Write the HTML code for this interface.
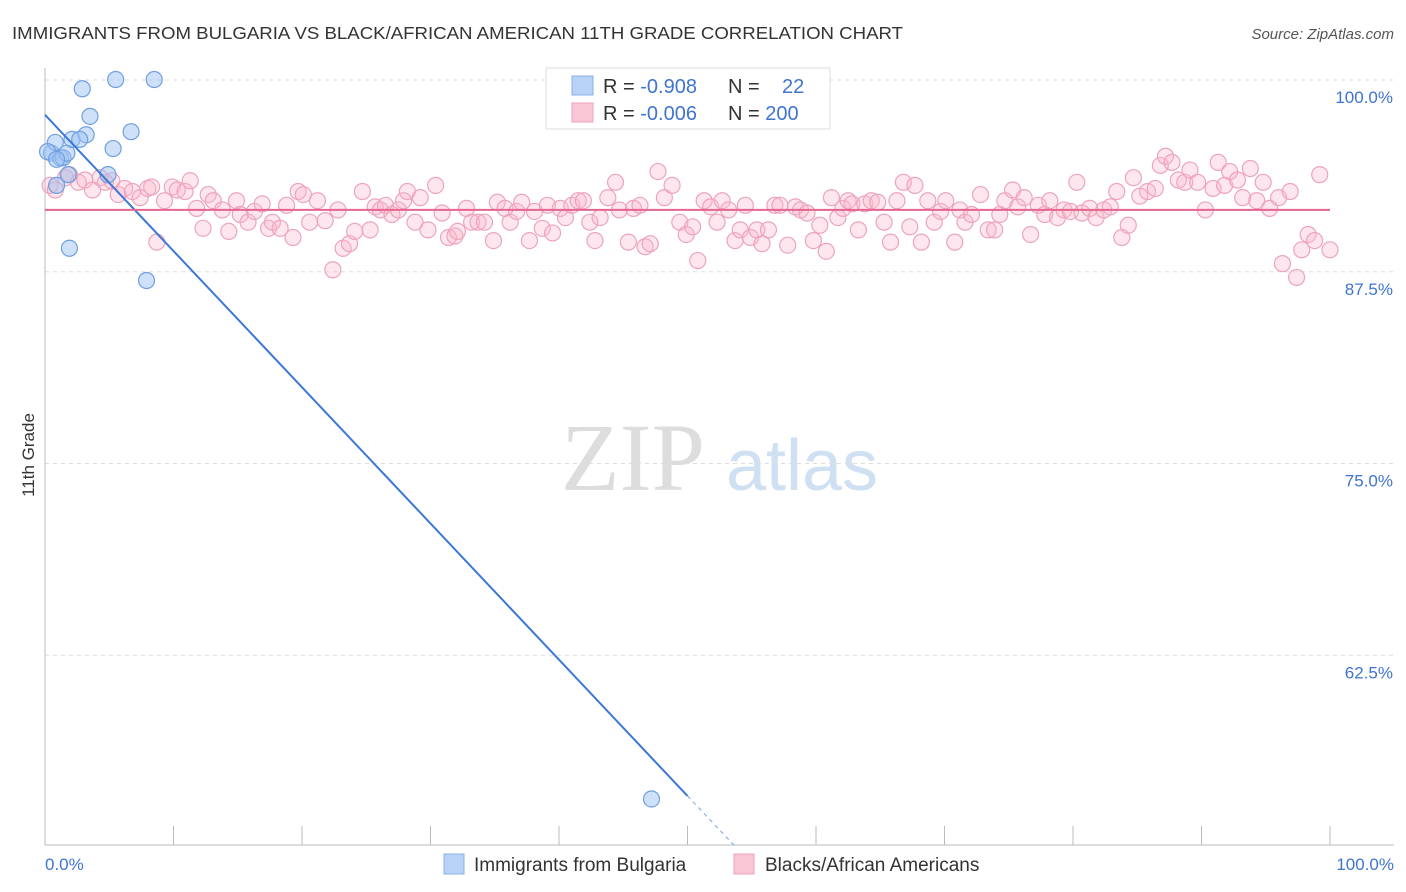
<!DOCTYPE html>
<html><head><meta charset="utf-8">
<style>
body{margin:0;width:1406px;height:892px;background:#fff;font-family:"Liberation Sans",sans-serif;overflow:hidden}
svg{display:block}
</style></head><body>
<svg id="chart" width="1406" height="892">
<text x="12" y="39" font-size="17.5" fill="#333" textLength="891" lengthAdjust="spacingAndGlyphs">IMMIGRANTS FROM BULGARIA VS BLACK/AFRICAN AMERICAN 11TH GRADE CORRELATION CHART</text>
<text x="1394" y="39" font-size="15" fill="#555" font-style="italic" text-anchor="end">Source: ZipAtlas.com</text>
<g>
<text x="633" y="490" font-size="96" fill="#ddd" font-family="Liberation Serif,serif" text-anchor="middle">ZIP</text>
<text x="802" y="490" font-size="72" fill="#cfe0f2" text-anchor="middle">atlas</text>
</g>
<g id="grid"></g>
<g id="axes"></g>
<g id="pink"></g>
<g id="blue"></g>
<g id="lines"></g>
<text transform="translate(34,455) rotate(-90)" font-size="17" fill="#333" text-anchor="middle">11th Grade</text>
<g>
<rect x="546" y="68" width="284" height="61" fill="#fff" stroke="#ddd"/>
<rect x="572" y="76" width="21" height="19" fill="#b8d3f5" stroke="#8ab0e6"/>
<rect x="572" y="103" width="21" height="19" fill="#f9c6d6" stroke="#eda2bb"/>
<text x="603" y="93" font-size="20" fill="#333">R = <tspan fill="#3f74d0">-0.908</tspan></text>
<text x="728" y="93" font-size="20" fill="#333">N = <tspan fill="#3f74d0" x="782">22</tspan></text>
<text x="603" y="120" font-size="20" fill="#333">R = <tspan fill="#3f74d0">-0.006</tspan></text>
<text x="728" y="120" font-size="20" fill="#333">N = <tspan fill="#3f74d0">200</tspan></text>
</g>
<g>
<rect x="444" y="854" width="20" height="20" fill="#b8d3f5" stroke="#8ab0e6"/>
<text x="474" y="871" font-size="19" fill="#333">Immigrants from Bulgaria</text>
<rect x="734" y="854" width="20" height="20" fill="#f9c6d6" stroke="#eda2bb"/>
<text x="765" y="871" font-size="19" fill="#333">Blacks/African Americans</text>
</g>
</svg>
<script>
const blueX=[0.5,0.8,0.9,1.2,1.4,1.7,1.9,2.1,2.9,3.2,2.7,3.5,4.9,5.3,5.5,6.7,7.9,8.5,47.2,0.2,0.9,1.8];
const blueY=[95.1,95.8,93.0,94.8,94.8,95.1,88.9,96.0,99.3,96.3,96.0,97.5,93.7,95.4,99.9,96.5,86.8,99.9,53.0,95.2,94.7,93.7];
const pinkX=[0.4,0.8,1.6,1.9,2.6,3.1,3.7,4.3,4.7,5.2,5.7,6.2,6.8,7.4,8.0,8.3,8.7,9.3,9.9,10.3,10.9,11.3,11.8,12.3,12.7,13.1,13.8,14.3,14.9,15.2,15.8,16.3,16.9,17.4,17.7,18.3,18.8,19.3,19.7,20.1,20.6,21.2,21.8,22.4,22.8,23.2,23.7,24.1,24.7,25.3,25.7,26.1,26.5,27.0,27.5,27.9,28.2,28.8,29.2,29.8,30.4,30.9,31.4,31.9,32.1,32.8,33.2,33.7,34.2,34.9,35.2,35.8,36.2,36.7,37.1,37.7,38.1,38.7,39.1,39.5,40.1,40.5,41.0,41.5,41.9,42.4,42.8,43.2,43.8,44.4,44.7,45.4,45.8,46.3,46.7,47.1,47.7,48.2,48.8,49.4,49.9,50.4,50.8,51.3,51.8,52.3,52.7,53.2,53.7,54.1,54.5,54.9,55.4,55.8,56.3,56.8,57.2,57.8,58.4,58.8,59.3,59.8,60.3,60.8,61.2,61.7,62.1,62.5,62.8,63.3,63.8,64.3,64.8,65.3,65.8,66.3,66.8,67.3,67.7,68.2,68.7,69.2,69.7,70.1,70.8,71.2,71.6,72.1,72.8,73.4,73.9,74.3,74.7,75.3,75.7,76.2,76.7,77.3,77.8,78.2,78.8,79.3,79.8,80.3,80.7,81.3,81.8,82.4,82.9,83.4,83.8,84.3,84.7,85.2,85.8,86.4,86.8,87.2,87.7,88.2,88.7,89.1,89.7,90.3,90.9,91.3,91.8,92.2,92.8,93.2,93.8,94.3,94.8,95.3,96.0,96.3,96.9,97.4,97.8,98.3,98.8,99.2,100.0];
const pinkY=[93.0,92.7,93.5,93.7,93.2,93.35,92.7,93.5,93.2,93.3,92.4,92.8,92.6,92.2,92.8,92.9,89.3,92.0,92.9,92.7,92.6,93.3,91.5,90.2,92.4,92.0,91.4,90.0,92.0,91.1,90.6,91.3,91.8,90.2,90.6,90.2,91.7,89.6,92.6,92.4,90.6,92.0,90.7,87.5,91.4,88.9,89.2,90.0,92.6,90.1,91.6,91.4,91.7,91.1,91.4,92.0,92.6,90.6,92.2,90.1,93.0,91.2,89.6,89.7,90.0,91.5,90.6,90.6,90.6,89.4,91.9,91.5,90.6,91.3,91.9,89.4,91.3,90.2,91.7,89.9,91.5,90.9,91.7,92.0,92.0,90.6,89.4,90.9,92.2,93.2,91.4,89.3,91.5,91.7,89.0,89.2,93.9,92.2,93.0,90.6,89.8,90.3,88.1,92.0,91.6,90.6,92.0,91.4,89.4,90.1,91.7,89.6,90.1,89.2,90.1,91.7,91.7,89.1,91.6,91.4,91.2,89.4,90.4,88.7,92.2,90.9,91.5,92.0,91.8,90.1,91.8,92.0,91.9,90.6,89.3,92.0,93.2,90.3,93.0,89.3,92.0,90.6,91.3,92.0,89.3,91.4,90.6,91.1,92.4,90.1,90.1,91.1,92.0,92.7,91.6,92.2,89.8,91.7,91.1,92.0,90.9,91.4,91.3,93.2,91.2,91.5,90.9,91.4,91.6,92.6,89.6,90.4,93.5,92.3,92.6,92.8,94.3,94.9,94.5,93.35,93.2,94.0,93.2,91.4,92.8,94.5,93.0,93.9,93.35,92.2,94.1,92.0,93.2,91.5,92.2,87.9,92.6,87.0,88.8,89.8,89.4,93.7,88.8];
const yTicks=[100,87.5,75,62.5];
const yTickLabels=["100.0%","87.5%","75.0%","62.5%"];
const pinkFitLevel=91.4;

const NS="http://www.w3.org/2000/svg";
const X0=45,X1=1330,YT=78,YB=845;
const sx=v=>X0+(X1-X0)*v/100;
const sy=v=>YT+(100-v)*(YB-YT)/50;
function mk(tag,attrs,parent){const e=document.createElementNS(NS,tag);for(const k in attrs)e.setAttribute(k,attrs[k]);parent.appendChild(e);return e;}
const grid=document.getElementById('grid'),axes=document.getElementById('axes');
yTicks.forEach((t,i)=>{
 const g=mk('line',{x1:X0,x2:1394,y1:sy(t)+2,y2:sy(t)+2,stroke:'#ddd','stroke-dasharray':'4,4'},grid);
 
 
 const l=mk('text',{x:1393,y:sy(t)+25,'font-size':17,fill:'#3f74d0','text-anchor':'end'},axes);
 l.textContent=yTickLabels[i];
 
 
});
const ax=mk('line',{x1:X0,x2:1394,y1:YB,y2:YB,stroke:'#bbb'},axes);


const ay=mk('line',{x1:X0,x2:X0,y1:68,y2:YB,stroke:'#bbb'},axes);


for(let i=0;i<=10;i++){
 const t=mk('line',{x1:sx(i*10),x2:sx(i*10),y1:826,y2:YB,stroke:'#bbb'},axes);
 
 
}
const xl=mk('text',{x:45,y:870,'font-size':17,fill:'#3f74d0'},axes);xl.textContent='0.0%';


const xr=mk('text',{x:1394,y:870,'font-size':17,fill:'#3f74d0','text-anchor':'end'},axes);xr.textContent='100.0%';



const pink=document.getElementById('pink');
pinkX.forEach((x,i)=>{
 const c=mk('circle',{cx:sx(x),cy:sy(pinkY[i]),r:8,fill:'rgba(248,182,203,0.35)',stroke:'#eea3bc','stroke-width':1.2},pink);
 
 
});
const blue=document.getElementById('blue');
blueX.forEach((x,i)=>{
 const c=mk('circle',{cx:sx(x),cy:sy(blueY[i]),r:8,fill:'rgba(160,195,242,0.5)',stroke:'#6f9fe0','stroke-width':1.2},blue);
 
 
});
const lines=document.getElementById('lines');
const a=97.6,b=(53.2-97.6)/50;
const bl=mk('line',{x1:sx(0),y1:sy(a),x2:sx(50),y2:sy(a+b*50),stroke:'#3a78d8','stroke-width':2},lines);


const bd=mk('line',{x1:sx(50),y1:sy(a+b*50),x2:sx(53.7),y2:sy(a+b*53.7),stroke:'#8ab0e6','stroke-width':1.2,'stroke-dasharray':'4,4'},lines);


const pl=mk('line',{x1:sx(0),y1:sy(pinkFitLevel),x2:sx(100),y2:sy(pinkFitLevel),stroke:'#e5658e','stroke-width':2},lines);


</script>
</body></html>
